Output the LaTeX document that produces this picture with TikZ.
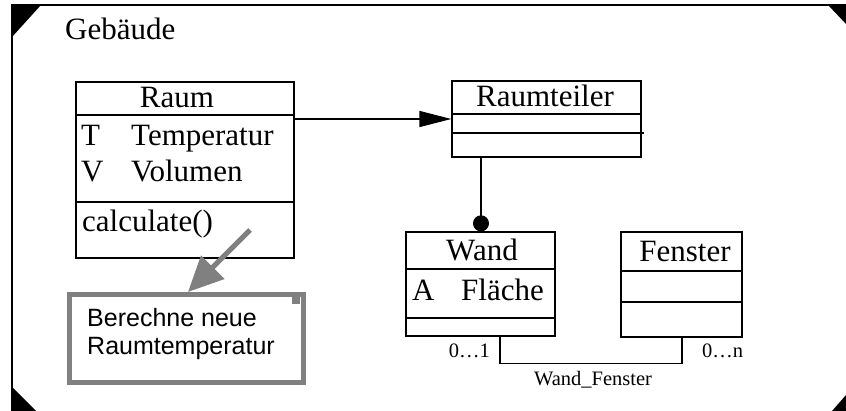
\documentclass[tikz,border=0pt]{standalone}
\usepackage{fontspec}
\setmainfont{Liberation Serif}
\newfontfamily\notefont{Liberation Sans}
\usetikzlibrary{arrows.meta}
\definecolor{notegray}{RGB}{128,128,128}
\tikzset{
  umlbox/.style={draw, line width=1.3pt, inner sep=0pt},
  divider/.style={line width=1.3pt},
  big/.style={font=\fontsize{31}{36}\selectfont, inner sep=0pt},
  small/.style={font=\fontsize{20.5}{24}\selectfont, inner sep=0pt},
  notetext/.style={font=\notefont\fontsize{25}{28}\selectfont, inner sep=0pt},
  link/.style={line width=1.3pt},
  corner/.style={fill=black}
}
\begin{document}
\begin{tikzpicture}[x=1pt,y=-1pt]
\useasboundingbox (0,0) rectangle (846,411);

% outer frame with its dark corner marks
\draw[line width=1.3pt] (12,411) -- (12,5) -- (846,5);
\fill[corner] (12,5) -- (41,5) -- (12,37) -- cycle;
\fill[corner] (828,5) -- (846,5) -- (846,24) -- cycle;
\fill[corner] (12,387) -- (12,411) -- (36,411) -- cycle;
\fill[corner] (846,395) -- (846,411) -- (832,411) -- cycle;

\node[big, anchor=base west] (gebaeude) at (65,40) {Gebäude};

% class Raum
\node[umlbox, minimum width=218pt, minimum height=176pt] (raum) at (185,170) {};
\draw[divider] (raum.west |- 0,115) -- (raum.east |- 0,115);
\draw[divider] (raum.west |- 0,202) -- (raum.east |- 0,202);
\node[big, anchor=base] (raumname) at (177,108) {Raum};
\node[big, anchor=base west] (rT) at (81,146) {T};
\node[big, anchor=base west] (rTemp) at (131,146) {Temperatur};
\node[big, anchor=base west] (rV) at (81,182) {V};
\node[big, anchor=base west] (rVol) at (131,182) {Volumen};
\node[big, anchor=base west] (rcalc) at (82,232) {calculate()};

% class Raumteiler
\node[umlbox, minimum width=189pt, minimum height=76pt] (teiler) at (546.5,119) {};
\draw[divider] (teiler.west |- 0,114) -- (teiler.east |- 0,114);
\draw[divider] (teiler.west |- 0,133) -- ([xshift=2pt]teiler.east |- 0,133);
\node[big, anchor=base] (teilername) at (545,107) {Raumteiler};

% class Wand
\node[umlbox, minimum width=149pt, minimum height=104pt] (wand) at (480.5,284) {};
\draw[divider] (wand.west |- 0,269) -- (wand.east |- 0,269);
\draw[divider] (wand.west |- 0,318) -- (wand.east |- 0,318);
\node[big, anchor=base] (wandname) at (482,261) {Wand};
\node[big, anchor=base west] (wA) at (412,301) {A};
\node[big, anchor=base west] (wFl) at (461,301) {Fläche};

% class Fenster
\node[umlbox, minimum width=121pt, minimum height=105pt] (fenster) at (681.5,284.5) {};
\draw[divider] (fenster.west |- 0,271) -- (fenster.east |- 0,271);
\draw[divider] (fenster.west |- 0,302) -- (fenster.east |- 0,302);
\node[big, anchor=base] (fenstername) at (685,262) {Fenster};

% associations
\draw[link, -{Triangle[length=32pt, width=16pt]}] (raum.east |- 0,119) -- (teiler.west |- 0,119);
\draw[link, -{Circle[length=16pt]}] (teiler.south -| 481,0) -- (wand.north -| 481,0);
\coordinate (wfA) at (500,336);
\coordinate (wfB) at (682,337);
\draw[link] (wand.south -| wfA) -- ++(0,27) -| (fenster.south -| wfB);
\node[small, anchor=base east] (mult1) at (490,358) {0…1};
\node[small, anchor=base west] (multn) at (702,358) {0…n};
\node[small, anchor=base] (assoc) at (593,386) {Wand\_Fenster};

% note attached to calculate()
\node[draw=notegray, line width=5pt, minimum width=234pt, minimum height=88pt, inner sep=0pt] (note) at (186.5,338.5) {};
\fill[notegray] (292,297) rectangle (300,304);
\node[notetext, anchor=base west] (note1) at (87,327) {Berechne neue};
\node[notetext, anchor=base west] (note2) at (87,355) {Raumtemperatur};
\coordinate (notetail) at (250,230);
\draw[notegray, line width=5pt, -{Triangle[length=35pt, width=32pt]}] (notetail) -- (188,292);
\end{tikzpicture}
\end{document}
